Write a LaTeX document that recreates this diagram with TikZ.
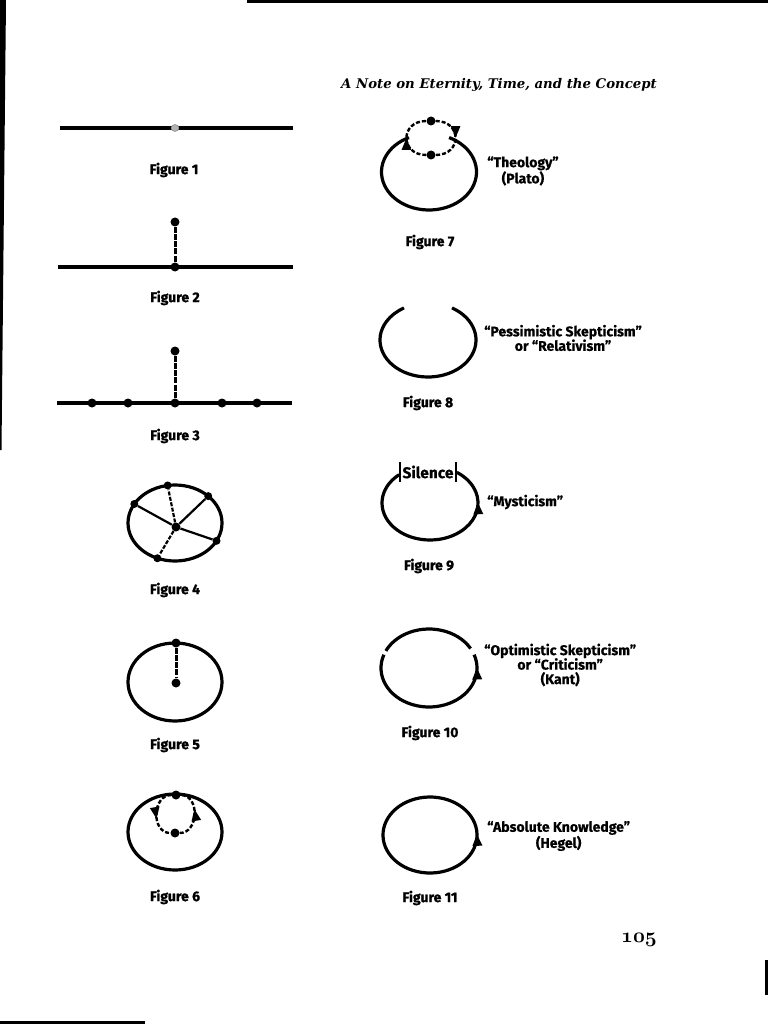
\documentclass[tikz,border=0pt]{standalone}
\usepackage{fontspec}
\newfontfamily\figfont{Fira Sans}[BoldFeatures={FakeBold=1.2}]
\newfontfamily\quotefont{Fira Sans}[BoldFeatures={FakeBold=0.6}]
\newfontfamily\headfont{DejaVu Serif}
\usetikzlibrary{positioning,arrows.meta,decorations.markings,shapes.geometric}
\tikzset{%
  rule/.style={line width=3.4pt},
  stem/.style={line width=3pt,dash pattern=on 6pt off 1.2pt},
  spoke/.style={line width=2.2pt},
  dot/.style={circle,fill=black,inner sep=0pt,minimum size=9pt},
  ring/.style={line width=3.2pt},
  loopline/.style={line width=2.4pt,dash pattern=on 4pt off 2pt},
  flow/.style={postaction={decorate},decoration={markings,
    mark=at position #1 with {\arrow{Triangle[length=12pt,width=9pt]}}}},
  figlabel/.style={font=\figfont\bfseries\fontsize{14}{16}\selectfont},
  quote/.style={font=\quotefont\bfseries\fontsize{14}{14.5}\selectfont,align=center,inner sep=0pt,anchor=west}
}

\begin{document}
\begin{tikzpicture}[x=1pt,y=-1pt]
  \useasboundingbox (0,0) rectangle (768,1024);
  % edges of the scanned page
  \draw[line width=3pt] (247,1.5) -- (768,1.5);
  \fill (0,0) -- (6,0) -- (1.5,450) -- (0,450) -- cycle;
  \draw[line width=3pt] (0,1022.5) -- (145,1022.5);
  \draw[line width=3pt] (766.5,960) -- (766.5,995);

  \node[font=\headfont\bfseries\itshape\fontsize{13.3}{15}\selectfont] (head) at (499,85) {A Note on Eternity, Time, and the Concept};

  % Figure 1
  \coordinate (l1) at (60,128);
  \coordinate (r1) at (293,128);
  \draw[rule,line width=4pt] (l1) -- (r1);
  \node[ellipse,draw=gray,fill=gray!60,inner sep=0pt,minimum width=8pt,minimum height=7pt] (p1) at (175,128) {};
  \node[figlabel] (f1) at (174,170) {Figure 1};

  % Figure 2
  \coordinate (l2) at (58,267);
  \coordinate (r2) at (293,267);
  \draw[rule] (l2) -- (r2);
  \node[dot] (b2) at (175,267) {};
  \node[dot] (t2) at (175,222) {};
  \draw[stem] (t2) -- (b2);
  \node[figlabel] (f2) at (175,298) {Figure 2};

  % Figure 3
  \coordinate (l3) at (57,403);
  \coordinate (r3) at (292,403);
  \draw[rule] (l3) -- (r3);
  \foreach \x/\n in {92/a,128/b,175/c,222/d,257/e}
    \node[dot] (\n3) at (\x,403) {};
  \node[dot] (t3) at (175,351) {};
  \draw[stem] (t3) -- (c3);
  \node[figlabel] (f3) at (175,436) {Figure 3};

  % Figure 4
  \coordinate (c4) at (175,523);
  \draw[ring] (c4) ellipse[x radius=47,y radius=38];
  \node[dot] (h4) at (176,527) {};
  \foreach \a/\n in {-99/n,-45/ne,-150/w,28/se,112/s}
    \node[dot,minimum size=8pt] (\n4) at ([shift={(\a:47 and 38)}]c4) {};
  \draw[spoke,dash pattern=on 4pt off 1.5pt] (h4) -- (n4);
  \draw[spoke] (h4) -- (ne4);
  \draw[spoke] (h4) -- (w4);
  \draw[spoke] (h4) -- (se4);
  \draw[spoke,dash pattern=on 4pt off 1.5pt] (h4) -- (s4);
  \node[figlabel] (f4) at (175,590) {Figure 4};

  % Figure 5
  \coordinate (c5) at (175,682);
  \draw[ring] (c5) ellipse[x radius=47,y radius=39];
  \node[dot] (t5) at (176,643) {};
  \node[dot] (m5) at (176,683) {};
  \draw[stem] (t5) -- (m5);
  \node[figlabel] (f5) at (175,745) {Figure 5};

  % Figure 6
  \coordinate (c6) at (175,832);
  \draw[ring] (c6) ellipse[x radius=47,y radius=38];
  \node[dot] (t6) at (176,795) {};
  \node[dot] (m6) at (175,833) {};
  \draw[loopline,flow=.6] (t6) to[out=180,in=180,looseness=1.3] (m6);
  \draw[loopline,flow=.6] (m6) to[out=0,in=0,looseness=1.3] (t6);
  \node[figlabel] (f6) at (175,897) {Figure 6};

  % Figure 7
  \coordinate (c7) at (429,172);
  \draw[ring] ([shift={(-65:47.5 and 38)}]c7) arc[start angle=-65,end angle=245,x radius=47.5,y radius=38];
  \node[dot] (t7) at (431,121) {};
  \node[dot] (b7) at (431,155) {};
  \draw[loopline,flow=.5] (b7) to[out=180,in=180,looseness=2] (t7);
  \draw[loopline,flow=.5] (t7) to[out=0,in=0,looseness=2] (b7);
  \node[quote] (q7) at (487,171) {“Theology”\\(Plato)};
  \node[figlabel] (f7) at (430,242) {Figure 7};

  % Figure 8
  \coordinate (c8) at (428,340);
  \draw[ring] ([shift={(-60:48 and 37)}]c8) arc[start angle=-60,end angle=240,x radius=48,y radius=37];
  \node[quote] (q8) at (484,338) {“Pessimistic Skepticism”\\or “Relativism”};
  \node[figlabel] (f8) at (428,403) {Figure 8};

  % Figure 9
  \coordinate (c9) at (430,503);
  \draw[ring,flow=.815] ([shift={(230:48 and 37)}]c9) arc[start angle=230,end angle=-56,x radius=48,y radius=37];
  \node[font=\quotefont\bfseries\fontsize{15.5}{17}\selectfont,inner xsep=2pt,inner ysep=0pt,minimum height=19pt] (s9) at (428,472) {Silence};
  \draw[line width=1.8pt] (s9.north west) -- (s9.south west);
  \draw[line width=1.8pt] (s9.north east) -- (s9.south east);
  \node[quote] (q9) at (487,502) {“Mysticism”};
  \node[figlabel] (f9) at (429,566) {Figure 9};

  % Figure 10
  \coordinate (c10) at (429,668);
  \draw[ring,flow=.92] ([shift={(200:48 and 39)}]c10) arc[start angle=200,end angle=-20,x radius=48,y radius=39];
  \draw[ring] ([shift={(-30:48 and 39)}]c10) arc[start angle=-30,end angle=-154,x radius=48,y radius=39];
  \node[quote] (q10) at (484,665) {“Optimistic Skepticism”\\or “Criticism”\\(Kant)};
  \node[figlabel] (f10) at (430,733) {Figure 10};

  % Figure 11
  \coordinate (c11) at (430,835);
  \draw[ring,flow=.285] ([shift={(100:47 and 38)}]c11) arc[start angle=100,end angle=-260,x radius=47,y radius=38];
  \node[quote] (q11) at (487,836) {“Absolute Knowledge”\\(Hegel)};
  \node[figlabel] (f11) at (430,898) {Figure 11};

  \node (pg) at (639,940) {\usefont{OML}{cmm}{b}{it}\fontsize{20.74}{24}\selectfont 105};
\end{tikzpicture}
\end{document}
